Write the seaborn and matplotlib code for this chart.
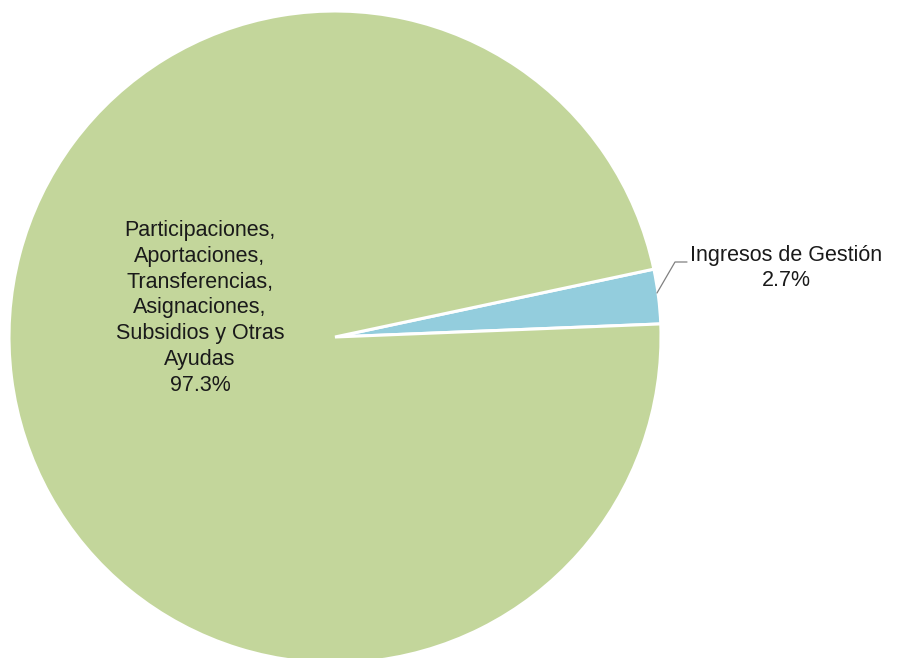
import matplotlib
matplotlib.use("Agg")
import matplotlib.pyplot as plt
import seaborn as sns

categories = ["Ingresos de Gestión",
              "Participaciones,\nAportaciones,\nTransferencias,\nAsignaciones,\nSubsidios y Otras\nAyudas"]
values = [2.7, 97.3]
colors = ["#93CDDD", "#C3D69B"]

sns.set_theme(style="white")
plt.rcParams['font.family'] = ['Liberation Sans', 'DejaVu Sans']

W, H = 908, 658
fig = plt.figure(figsize=(W / 100, H / 100), dpi=100)
ax = fig.add_axes([0, 0, 1, 1])

cx, cy, r = 335, H - 337, 326
wedges, _ = ax.pie(values, colors=colors, startangle=2.3, counterclock=True,
                   center=(cx, cy), radius=r,
                   wedgeprops=dict(edgecolor="white", linewidth=2.2))
ax.set_xlim(0, W)
ax.set_ylim(0, H)
ax.set_aspect("equal")
ax.axis("off")

tc = "#1a1a1a"
ax.text(200, H - 308, f"{categories[1]}\n{values[1]:.1f}%", ha="center", va="center",
        fontsize=15.5, color=tc, linespacing=1.3)
ax.text(786, H - 268, f"{categories[0]}\n{values[0]:.1f}%", ha="center", va="center",
        fontsize=15.5, color=tc, linespacing=1.3)
ax.plot([657, 675, 687], [H - 293, H - 262, H - 262], color="#808080", lw=0.9)

fig.savefig("out.png", dpi=100)
